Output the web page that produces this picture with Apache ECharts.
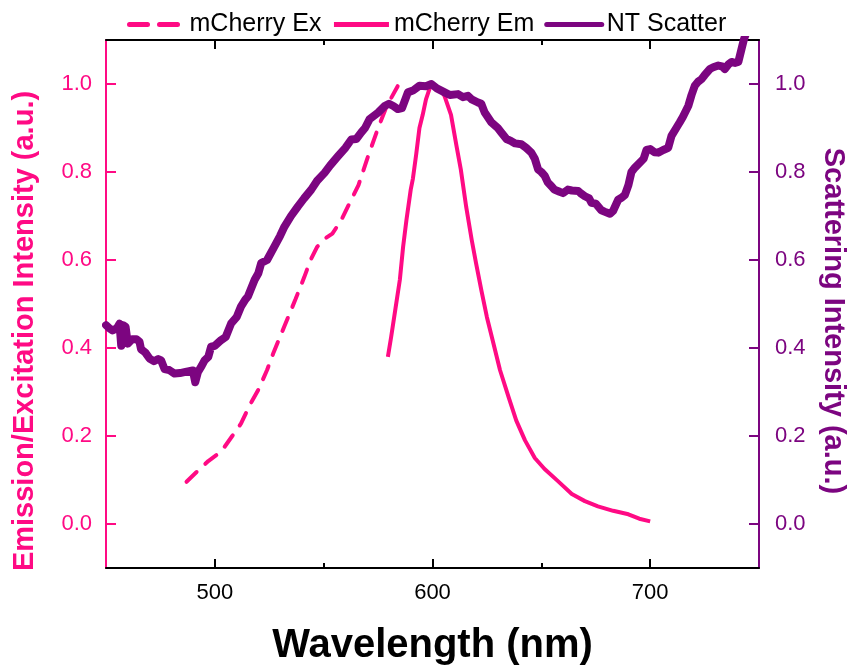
<!DOCTYPE html>
<html>
<head>
<meta charset="utf-8">
<script src="https://cdn.jsdelivr.net/npm/echarts@6/dist/echarts.min.js"></script>
<style>
  html, body { margin: 0; padding: 0; background: #fff; }
  #spectra-chart { width: 852px; height: 665px; }
</style>
</head>
<body>
<div id="spectra-chart"></div>
<script>
// mCherry excitation (dashed)
var exWavelength = [487, 492, 497, 503, 508, 512, 516, 520, 524, 527, 532, 537, 541, 544, 547, 551, 554, 558, 562, 566, 570, 575, 579, 584];
var exIntensity  = [0.096, 0.12, 0.143, 0.165, 0.2, 0.228, 0.27, 0.305, 0.35, 0.39, 0.45, 0.51, 0.56, 0.6, 0.63, 0.65, 0.66, 0.69, 0.73, 0.77, 0.83, 0.9, 0.95, 0.995];

// mCherry emission
var emWavelength = [579.5, 581, 583, 585, 586.5, 588, 590, 591, 592.5, 594, 595.5, 597, 598.7, 600, 603, 605.5, 608.5, 611, 613, 615.5, 618, 620, 622.5, 625, 628, 631, 635, 638.5, 642.5, 647, 651.5, 657.5, 664, 670, 676, 683, 690, 695, 700];
var emIntensity  = [0.38, 0.425, 0.49, 0.555, 0.63, 0.69, 0.76, 0.785, 0.84, 0.9, 0.93, 0.965, 0.99, 1.0, 0.99, 0.973, 0.93, 0.86, 0.806, 0.72, 0.646, 0.593, 0.53, 0.47, 0.41, 0.35, 0.288, 0.235, 0.19, 0.15, 0.125, 0.098, 0.068, 0.052, 0.04, 0.03, 0.022, 0.012, 0.006];

// nanotube scattering
var ntWavelength = [450, 451.5, 453, 455, 456.2, 457, 457.8, 459, 460, 462, 464, 465.4, 466.1, 468, 470, 472, 474, 475.3, 476.9, 479, 481.5, 484, 486, 489.9, 491, 492.2, 494, 495.3, 497, 498.3, 500, 502.9, 505, 507.5, 510, 512, 514, 515.2, 518.3, 520, 521.3, 524, 527.4, 530, 532, 535, 538.2, 541, 544.3, 547, 550.4, 553, 556.6, 560, 562.7, 565, 567.3, 569, 571.1, 575, 578, 580, 582, 584.1, 586, 588.7, 591, 594, 597, 599.5, 602, 605.6, 608, 611.7, 614, 616.3, 618, 620.9, 622.4, 624, 627, 630, 631.6, 634, 636.2, 638, 640.8, 643, 645.4, 647, 648.5, 650, 651.6, 653, 654.6, 656, 658.4, 660, 662.2, 664, 666.9, 668, 670, 672, 673, 675, 677.6, 679, 681.5, 683, 685.3, 687, 688.4, 690, 691.4, 693, 696, 697, 698.3, 700, 702, 703.7, 706, 708.3, 709.8, 712, 713.6, 715, 717.5, 719, 720.5, 722, 723.6, 725, 727.4, 729, 731.3, 733, 734.3, 736, 737.4, 739, 740.5, 742, 743, 745];
var ntIntensity  = [0.452, 0.445, 0.44, 0.445, 0.455, 0.405, 0.452, 0.448, 0.41, 0.42, 0.42, 0.414, 0.397, 0.39, 0.376, 0.37, 0.375, 0.372, 0.352, 0.35, 0.342, 0.343, 0.345, 0.349, 0.322, 0.345, 0.36, 0.372, 0.38, 0.403, 0.405, 0.418, 0.425, 0.456, 0.47, 0.494, 0.51, 0.517, 0.555, 0.57, 0.593, 0.6, 0.631, 0.655, 0.676, 0.7, 0.722, 0.74, 0.76, 0.78, 0.798, 0.815, 0.836, 0.855, 0.874, 0.875, 0.89, 0.9, 0.92, 0.935, 0.95, 0.955, 0.95, 0.943, 0.945, 0.981, 0.985, 0.996, 0.995, 1.0, 0.99, 0.981, 0.975, 0.977, 0.97, 0.973, 0.965, 0.958, 0.955, 0.935, 0.913, 0.9, 0.89, 0.875, 0.87, 0.865, 0.863, 0.855, 0.844, 0.83, 0.806, 0.8, 0.791, 0.776, 0.768, 0.76, 0.755, 0.752, 0.76, 0.758, 0.757, 0.752, 0.745, 0.74, 0.73, 0.728, 0.713, 0.71, 0.705, 0.712, 0.737, 0.742, 0.748, 0.77, 0.8, 0.81, 0.825, 0.83, 0.85, 0.852, 0.845, 0.844, 0.85, 0.855, 0.882, 0.9, 0.913, 0.925, 0.95, 0.975, 0.996, 1.005, 1.011, 1.02, 1.034, 1.038, 1.042, 1.04, 1.034, 1.045, 1.05, 1.048, 1.05, 1.08, 1.1, 1.13];

var majorTicksX = [500, 600, 700];
var minorTicksX = [550, 650];
var ticksY = [0, 0.2, 0.4, 0.6, 0.8, 1.0];

var pink = '#ff0a84';
var purple = '#7c0580';

function zip(xs, ys) {
    return xs.map(function (x, i) { return [x, ys[i]]; });
}

var myChart = echarts.init(document.getElementById('spectra-chart'));

// helper for the extra tick-only x axes
function tickAxis(pos, values, len, showLine) {
    return {
        type: 'value', position: pos, min: 450, max: 750,
        axisLine: { show: showLine, onZero: false, lineStyle: { color: '#000', width: 2 } },
        axisTick: { show: true, inside: true, length: len, customValues: values, lineStyle: { color: '#000', width: 2 } },
        axisLabel: { show: false },
        splitLine: { show: false }
    };
}

var option = {
    animation: false,
    textStyle: { fontFamily: 'Liberation Sans' },
    legend: {
        left: 122,
        top: 7,
        itemWidth: 55,
        itemHeight: 14,
        itemGap: 10,
        itemStyle: { opacity: 0 },
        lineStyle: { width: 5 },
        textStyle: { color: '#000', fontSize: 25 },
        data: [
            { name: 'mCherry Ex', lineStyle: { type: [18, 12], cap: 'round' } },
            'mCherry Em',
            'NT Scatter'
        ]
    },
    grid: { left: 106, right: 93, top: 40, bottom: 97, outerBoundsMode: 'none' },
    xAxis: [
        {
            type: 'value', position: 'bottom', min: 450, max: 750,
            name: 'Wavelength (nm)',
            nameLocation: 'middle',
            nameGap: 58,
            nameTextStyle: { color: '#000', fontSize: 40, fontWeight: 'bold' },
            axisLine: { onZero: false, lineStyle: { color: '#000', width: 2 } },
            axisTick: { inside: true, length: 9, customValues: majorTicksX, lineStyle: { color: '#000', width: 2 } },
            axisLabel: { customValues: majorTicksX, color: '#000', fontSize: 22, margin: 14 },
            splitLine: { show: false }
        },
        tickAxis('bottom', minorTicksX, 5, false),
        tickAxis('top', majorTicksX, 9, true),
        tickAxis('top', minorTicksX, 5, false)
    ],
    yAxis: [
        {
            type: 'value', position: 'left', min: -0.1, max: 1.1,
            name: 'Emission/Excitation Intensity (a.u.)',
            nameLocation: 'middle',
            nameGap: 67,
            nameTextStyle: { color: pink, fontSize: 29, fontWeight: 'bold', padding: [0, 54, 0, 0] },
            axisLine: { show: true, onZero: false, lineStyle: { color: pink, width: 2 } },
            axisTick: { show: true, inside: true, length: 10, customValues: ticksY, lineStyle: { color: pink, width: 2 } },
            axisLabel: { customValues: ticksY, color: pink, fontSize: 22, margin: 14, formatter: function (v) { return v.toFixed(1); } },
            splitLine: { show: false }
        },
        {
            type: 'value', position: 'right', min: -0.1, max: 1.1,
            name: 'Scattering Intensity (a.u.)',
            nameLocation: 'middle',
            nameRotate: -90,
            nameGap: 59,
            nameTextStyle: { color: purple, fontSize: 29, fontWeight: 'bold', padding: [0, 0, 0, 34] },
            axisLine: { show: true, onZero: false, lineStyle: { color: purple, width: 2 } },
            axisTick: { show: true, inside: true, length: 10, customValues: ticksY, lineStyle: { color: purple, width: 2 } },
            axisLabel: { customValues: ticksY, color: purple, fontSize: 22, margin: 16, formatter: function (v) { return v.toFixed(1); } },
            splitLine: { show: false }
        }
    ],
    series: [
        {
            name: 'mCherry Ex',
            type: 'line',
            xAxisIndex: 0, yAxisIndex: 0,
            symbol: 'none',
            itemStyle: { color: pink },
            lineStyle: { color: pink, width: 4, type: [14, 12], cap: 'round' },
            data: zip(exWavelength, exIntensity)
        },
        {
            name: 'mCherry Em',
            type: 'line',
            xAxisIndex: 0, yAxisIndex: 0,
            symbol: 'none',
            itemStyle: { color: pink },
            lineStyle: { color: pink, width: 4, join: 'round' },
            data: zip(emWavelength, emIntensity)
        },
        {
            name: 'NT Scatter',
            type: 'line',
            xAxisIndex: 0, yAxisIndex: 1,
            symbol: 'none',
            itemStyle: { color: purple },
            lineStyle: { color: purple, width: 8, join: 'round', cap: 'round' },
            data: zip(ntWavelength, ntIntensity)
        }
    ]
};

myChart.setOption(option);
</script>
</body>
</html>
